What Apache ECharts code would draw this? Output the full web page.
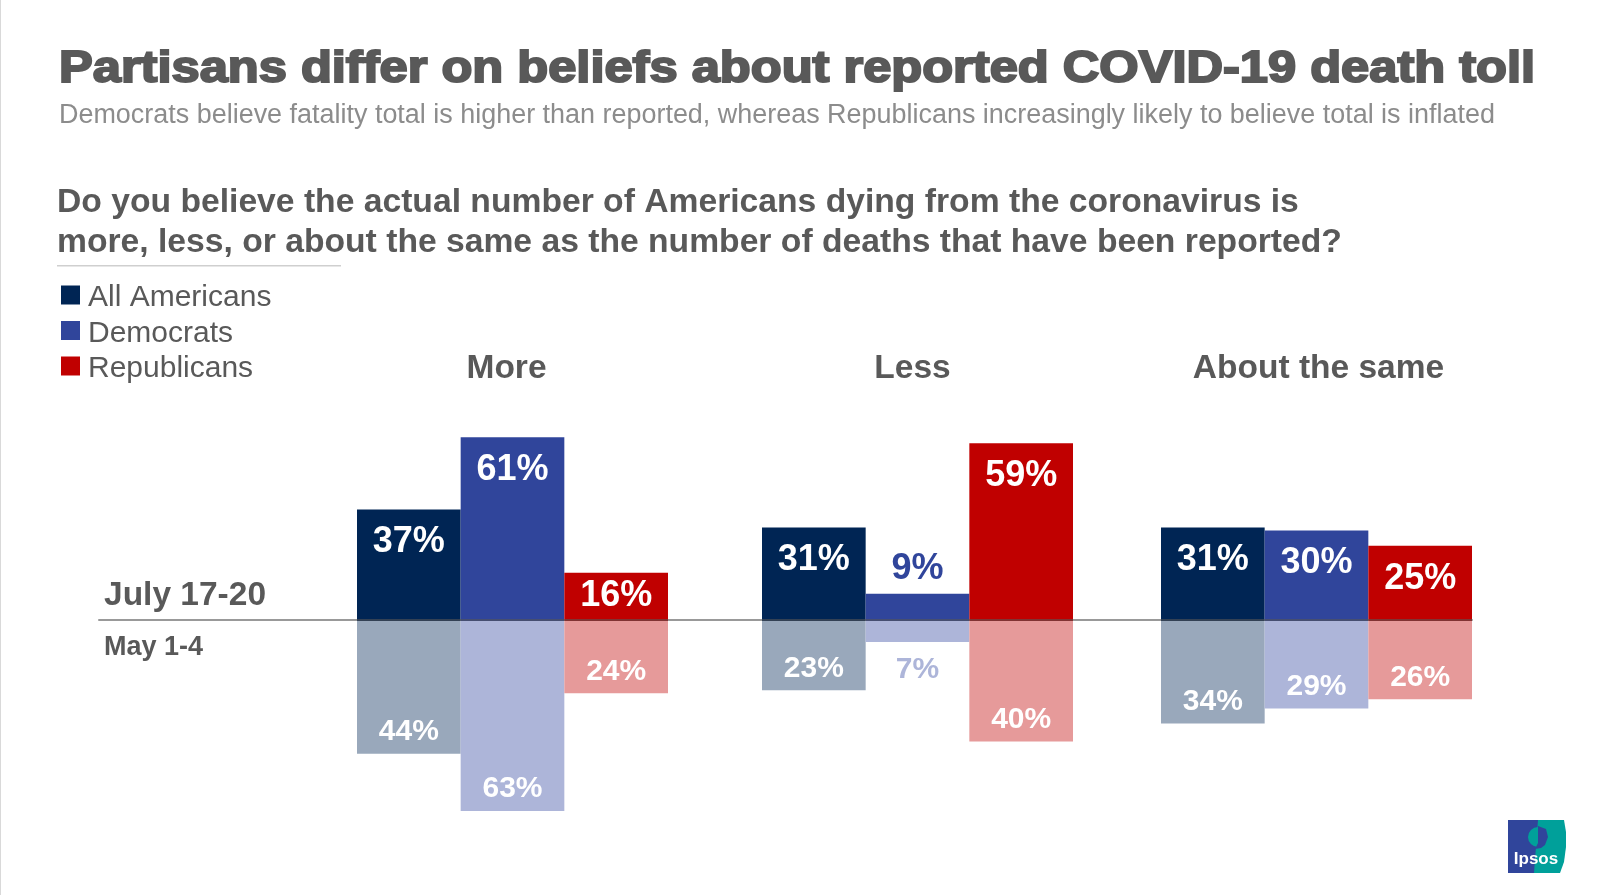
<!DOCTYPE html>
<html lang="en">
<head>
<meta charset="UTF-8">
<title>Partisans differ on beliefs about reported COVID-19 death toll</title>
<script src="https://cdn.jsdelivr.net/npm/echarts@6/dist/echarts.min.js"></script>
<style>
    html, body { margin: 0; padding: 0; background: #fff; }
    #chart { width: 1609px; height: 895px; }
</style>
</head>
<body>
<div id="chart"></div>
<script>
    var categories = ['More', 'Less', 'About the same'];
    var parties = ['All Americans', 'Democrats', 'Republicans'];

    // values per party, in the order of categories
    var julyAll = [37, 31, 31];
    var julyDem = [61, 9, 30];
    var julyRep = [16, 59, 25];
    var mayAll = [44, 23, 34];
    var mayDem = [63, 7, 29];
    var mayRep = [24, 40, 26];

    var julyValues = [julyAll, julyDem, julyRep];
    var mayValues = [mayAll, mayDem, mayRep];
    var strong = ['#002554', '#30459b', '#c00000'];
    var pale = ['#99a8bb', '#adb5d9', '#e69a9a'];

    var FONT = '"Liberation Sans", Arial, sans-serif';
    var GREY = '#595959';
    var chartTop = 410, chartHeight = 422;
    var groupLeft = [357, 762, 1161];
    var groupWidth = 311;
    var headingPadding = [[0, 12, 0, 0], [0, 10, 0, 0], [0, 0, 0, 4]];

    var grids = [], xAxes = [], yAxes = [], series = [];

    function julyLabel(v, p) {
        // short bars: the number sits above the bar or close to its top
        var outside = v < 12;
        return {
            show: true,
            position: outside ? 'top' : 'insideTop',
            distance: outside ? 7 : (v < 20 ? 5 : 15),
            color: outside ? strong[p] : '#fff',
            fontFamily: FONT, fontWeight: 'bold', fontSize: 36,
            formatter: v + '%'
        };
    }

    function mayLabel(v, p) {
        var outside = v < 12;
        return {
            show: true,
            position: outside ? 'bottom' : 'insideBottom',
            distance: outside ? 13 : 7,
            color: outside ? pale[p] : '#fff',
            fontFamily: FONT, fontWeight: 'bold', fontSize: 30,
            formatter: v + '%'
        };
    }

    categories.forEach(function (cat, c) {
        grids.push({ left: groupLeft[c], width: groupWidth, top: chartTop, height: chartHeight });
        xAxes.push({
            gridIndex: c, type: 'category', data: [cat], position: 'top',
            axisLine: { show: false, onZero: false }, axisTick: { show: false },
            axisLabel: {
                color: GREY, fontFamily: FONT, fontWeight: 'bold', fontSize: 33.5, margin: 24,
                padding: headingPadding[c]
            }
        });
        yAxes.push({ gridIndex: c, type: 'value', min: -70, max: 70, show: false });
        parties.forEach(function (party, p) {
            var stackName = cat + party;
            series.push({
                name: party, type: 'bar', xAxisIndex: c, yAxisIndex: c, stack: stackName,
                barCategoryGap: 0, barGap: 0,
                itemStyle: { color: strong[p] },
                label: julyLabel(julyValues[p][c], p),
                data: [julyValues[p][c]]
            });
            series.push({
                name: party + ' May', type: 'bar', xAxisIndex: c, yAxisIndex: c, stack: stackName,
                barCategoryGap: 0, barGap: 0,
                itemStyle: { color: pale[p] },
                label: mayLabel(mayValues[p][c], p),
                data: [-mayValues[p][c]]
            });
        });
    });

    // the long zero line under all three groups, it sits a little above the bars' base
    grids.push({ left: 99, width: 1373, top: chartTop - 1.5, height: chartHeight });
    xAxes.push({
        gridIndex: 3, type: 'value', min: 0, max: 1, z: 5,
        axisLine: { show: true, onZero: true, lineStyle: { color: 'rgba(85,85,85,0.6)', width: 2 } },
        axisTick: { show: false }, axisLabel: { show: false }, splitLine: { show: false }
    });
    yAxes.push({ gridIndex: 3, type: 'value', min: -70, max: 70, show: false });

    function text(x, y, str, size, color, weight, extra) {
        var style = {
            text: str, fill: color, font: weight + ' ' + size + 'px ' + FONT,
            textVerticalAlign: 'middle'
        };
        for (var k in extra) style[k] = extra[k];
        return { type: 'text', x: x, y: y, style: style };
    }

    var headline = text(59, 70, 'Partisans differ on beliefs about reported COVID-19 death toll', 44, GREY, 'bold',
        { stroke: GREY, lineWidth: 2 });
    headline.scaleX = 1.15;

    var chart = echarts.init(document.getElementById('chart'));
    chart.setOption({
        animation: false,
        backgroundColor: '#fff',
        legend: {
            data: parties, orient: 'vertical', left: 61, top: 277, padding: 0,
            itemWidth: 19, itemHeight: 19, itemGap: -0.5, icon: 'rect',
            selectedMode: false,
            formatter: '{t|{name}}',
            textStyle: {
                rich: {
                    t: { color: GREY, fontFamily: FONT, fontSize: 30, lineHeight: 24, padding: [6, 0, 0, 3] }
                }
            }
        },
        grid: grids,
        xAxis: xAxes,
        yAxis: yAxes,
        series: series,
        graphic: [
            { type: 'rect', shape: { x: 0, y: 0, width: 1, height: 895 }, style: { fill: '#d9d9d9' } },
            headline,
            text(59, 116, 'Democrats believe fatality total is higher than reported, whereas Republicans increasingly likely to believe total is inflated', 26.95, '#8c8c8c', 'normal'),
            text(57, 202.5, 'Do you believe the actual number of Americans dying from the coronavirus is', 33.67, GREY, 'bold'),
            text(57, 243, 'more, less, or about the same as the number of deaths that have been reported?', 33.67, GREY, 'bold'),
            { type: 'rect', shape: { x: 57, y: 265, width: 284, height: 1.5 }, style: { fill: '#cfcfcf' } },
            text(104, 596, 'July 17-20', 33.5, GREY, 'bold'),
            text(104, 648, 'May 1-4', 27, GREY, 'bold'),
            // Ipsos logo
            {
                type: 'group', x: 0, y: -3,
                children: [
                    { type: 'rect', shape: { x: 1508, y: 823, width: 30, height: 53 }, style: { fill: '#30459b' } },
                    { type: 'polygon', shape: { points: [[1538, 823], [1564, 823], [1566, 835], [1566, 850], [1564, 865], [1560, 876], [1534, 876]] }, style: { fill: '#00a09a' } },
                    { type: 'circle', shape: { cx: 1538, cy: 840, r: 10 }, style: { fill: '#00a09a' } },
                    { type: 'polygon', shape: { points: [[1538, 829], [1546, 832], [1548, 840], [1545, 848], [1541, 851], [1535, 852], [1538, 846]] }, style: { fill: '#30459b' } },
                    text(1536, 862, 'Ipsos', 17, '#fff', 'bold', { textAlign: 'center' })
                ]
            }
        ]
    });
</script>
</body>
</html>
